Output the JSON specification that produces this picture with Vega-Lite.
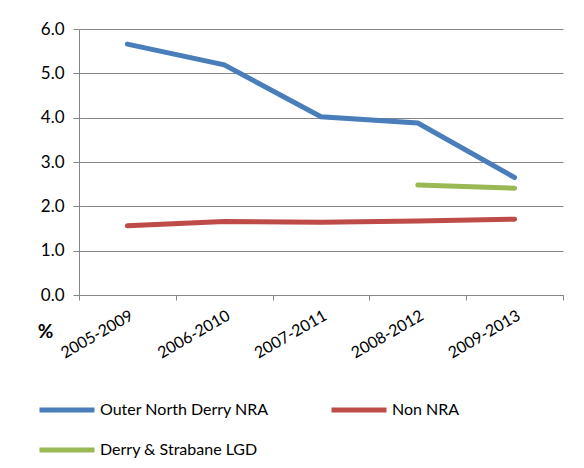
{
  "$schema": "https://vega.github.io/schema/vega-lite/v6.json",
  "width": 484,
  "height": 266,
  "autosize": {"type": "none"},
  "padding": {"left": 79, "top": 29, "right": 21, "bottom": 173},
  "background": "white",
  "config": {
    "font": "Lato",
    "view": {"stroke": null},
    "axis": {"labelFont": "Lato", "labelColor": "#000000", "domainColor": "#868686", "tickColor": "#868686", "gridColor": "#868686"},
    "legend": {"labelFont": "Lato"}
  },
  "data": {
    "values": [
      {"period": "2005-2009", "series": "Outer North Derry NRA", "value": 5.66},
      {"period": "2006-2010", "series": "Outer North Derry NRA", "value": 5.19},
      {"period": "2007-2011", "series": "Outer North Derry NRA", "value": 4.02},
      {"period": "2008-2012", "series": "Outer North Derry NRA", "value": 3.88},
      {"period": "2009-2013", "series": "Outer North Derry NRA", "value": 2.65},
      {"period": "2005-2009", "series": "Non NRA", "value": 1.56},
      {"period": "2006-2010", "series": "Non NRA", "value": 1.66},
      {"period": "2007-2011", "series": "Non NRA", "value": 1.64},
      {"period": "2008-2012", "series": "Non NRA", "value": 1.67},
      {"period": "2009-2013", "series": "Non NRA", "value": 1.71},
      {"period": "2008-2012", "series": "Derry & Strabane LGD", "value": 2.48},
      {"period": "2009-2013", "series": "Derry & Strabane LGD", "value": 2.41}
    ]
  },
  "mark": {"type": "line", "strokeWidth": 5, "strokeCap": "round"},
  "encoding": {
    "x": {
      "field": "period",
      "type": "nominal",
      "bandPosition": 0.5,
      "scale": {"type": "band", "paddingInner": 0, "paddingOuter": 0},
      "axis": {
        "title": null,
        "tickBand": "extent",
        "labelAngle": -30,
        "labelAlign": "right",
        "labelBaseline": "top",
        "labelFontSize": 16,
        "labelDx": 18,
        "labelPadding": 7,
        "tickSize": 5,
        "grid": false
      }
    },
    "y": {
      "field": "value",
      "type": "quantitative",
      "scale": {"domain": [0, 6], "nice": false},
      "axis": {
        "values": [0, 1, 2, 3, 4, 5, 6],
        "format": ".1f",
        "tickSize": 6,
        "labelPadding": 9,
        "labelFontSize": 17,
        "grid": true,
        "title": "%",
        "titleAngle": 0,
        "titleFontSize": 19,
        "titleFontWeight": "bold",
        "titleAlign": "center",
        "titleBaseline": "alphabetic",
        "titleX": -34,
        "titleY": 308,
        "titleColor": "#000000"
      }
    },
    "color": {
      "field": "series",
      "type": "nominal",
      "scale": {
        "domain": ["Outer North Derry NRA", "Non NRA", "Derry & Strabane LGD"],
        "range": ["#4A7EBB", "#BE4B48", "#98B954"]
      },
      "legend": {
        "title": null,
        "orient": "none",
        "legendX": -42,
        "legendY": 351,
        "direction": "horizontal",
        "columns": 2,
        "symbolType": "stroke",
        "symbolSize": 3025,
        "symbolStrokeWidth": 5,
        "labelFontSize": 16,
        "labelLimit": 400,
        "labelColor": "#000000",
        "labelOffset": 3,
        "columnPadding": 52,
        "rowPadding": -15
      }
    }
  }
}
